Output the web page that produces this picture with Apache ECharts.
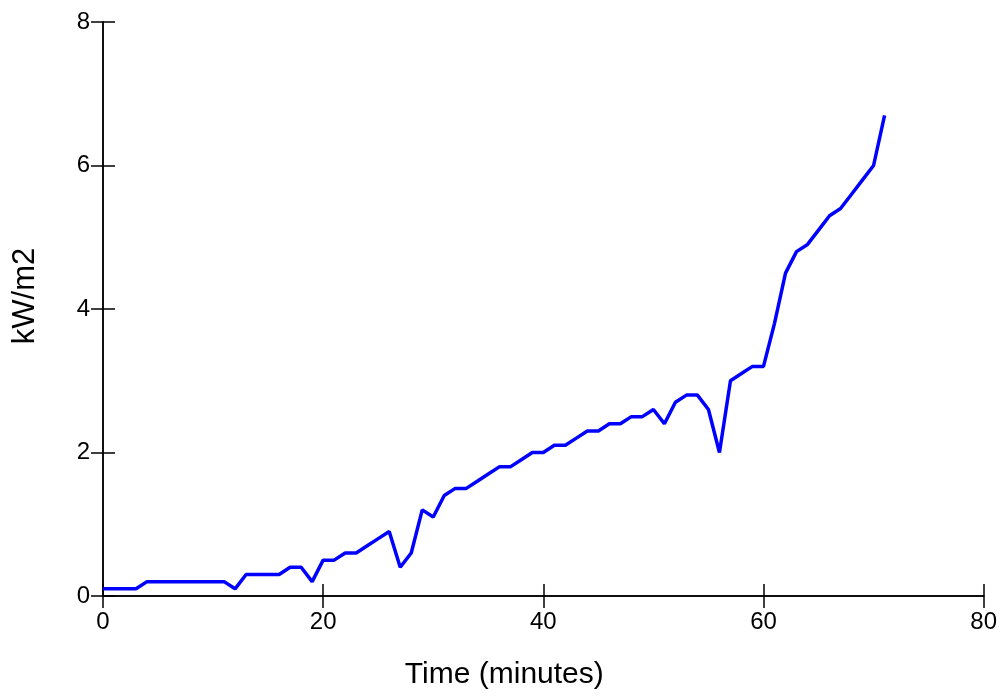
<!DOCTYPE html>
<html>
<head>
<meta charset="utf-8">
<script src="https://cdn.jsdelivr.net/npm/echarts@6/dist/echarts.min.js"></script>
<style>
html,body{margin:0;padding:0;background:#fff;}
#chart{width:1000px;height:698px;}
</style>
</head>
<body>
<div id="chart"></div>
<script>
var timeMinutes = [0,1,2,3,4,5,6,7,8,9,10,11,12,13,14,15,16,17,18,19,20,21,22,23,24,25,26,27,28,29,30,31,32,33,34,35,36,37,38,39,40,41,42,43,44,45,46,47,48,49,50,51,52,53,54,55,56,57,58,59,60,61,62,63,64,65,66,67,68,69,70,71];
var heatFlux = [0.1,0.1,0.1,0.1,0.2,0.2,0.2,0.2,0.2,0.2,0.2,0.2,0.1,0.3,0.3,0.3,0.3,0.4,0.4,0.2,0.5,0.5,0.6,0.6,0.7,0.8,0.9,0.4,0.6,1.2,1.1,1.4,1.5,1.5,1.6,1.7,1.8,1.8,1.9,2.0,2.0,2.1,2.1,2.2,2.3,2.3,2.4,2.4,2.5,2.5,2.6,2.4,2.7,2.8,2.8,2.6,2.0,3.0,3.1,3.2,3.2,3.8,4.5,4.8,4.9,5.1,5.3,5.4,5.6,5.8,6.0,6.7];
var xTicks = [0,20,40,60,80];
var yTicks = [0,2,4,6,8];

var FONT = 'Liberation Sans, Arial, sans-serif';
var points = timeMinutes.map(function(t,i){return [t, heatFlux[i]];});

var chart = echarts.init(document.getElementById('chart'), null, {renderer:'canvas'});
var lineStyle = {color:'#000', width:1.5};
chart.setOption({
  backgroundColor:'#fff',
  animation:false,
  grid:{left:103, right:15, top:22, bottom:102, containLabel:false},
  xAxis:[{
    type:'value', min:xTicks[0], max:xTicks[xTicks.length-1], interval:20, position:'bottom',
    axisLine:{show:true, onZero:false, lineStyle:lineStyle},
    axisTick:{show:true, inside:false, length:12, lineStyle:lineStyle},
    axisLabel:{show:true, margin:14, color:'#000', fontSize:24, fontFamily:FONT},
    splitLine:{show:false},
    name:'Time (minutes)', nameLocation:'middle', nameGap:64,
    nameTextStyle:{color:'#000', fontSize:30, fontFamily:FONT, padding:[0,78,0,0]}
  },{
    type:'value', min:xTicks[0], max:xTicks[xTicks.length-1], interval:20, position:'bottom',
    axisLine:{show:true, onZero:false, lineStyle:lineStyle},
    axisTick:{show:true, inside:true, length:12, lineStyle:lineStyle},
    axisLabel:{show:false}, splitLine:{show:false}
  }],
  yAxis:[{
    type:'value', min:yTicks[0], max:yTicks[yTicks.length-1], interval:2, position:'left',
    axisLine:{show:true, onZero:false, lineStyle:lineStyle},
    axisTick:{show:true, inside:false, length:12, lineStyle:lineStyle},
    axisLabel:{show:true, margin:13, color:'#000', fontSize:24, fontFamily:FONT},
    splitLine:{show:false},
    name:'kW/m2', nameLocation:'middle', nameGap:62, nameRotate:90,
    nameTextStyle:{color:'#000', fontSize:31, fontFamily:FONT, padding:[0,0,0,26]}
  },{
    type:'value', min:yTicks[0], max:yTicks[yTicks.length-1], interval:2, position:'left',
    axisLine:{show:true, onZero:false, lineStyle:lineStyle},
    axisTick:{show:true, inside:true, length:12, lineStyle:lineStyle},
    axisLabel:{show:false}, splitLine:{show:false}
  }],
  series:[{
    type:'line', xAxisIndex:0, yAxisIndex:0, data:points,
    showSymbol:false, symbol:'none',
    lineStyle:{color:'#0000ff', width:3.5}, itemStyle:{color:'#0000ff'}
  }]
});
</script>
</body>
</html>
